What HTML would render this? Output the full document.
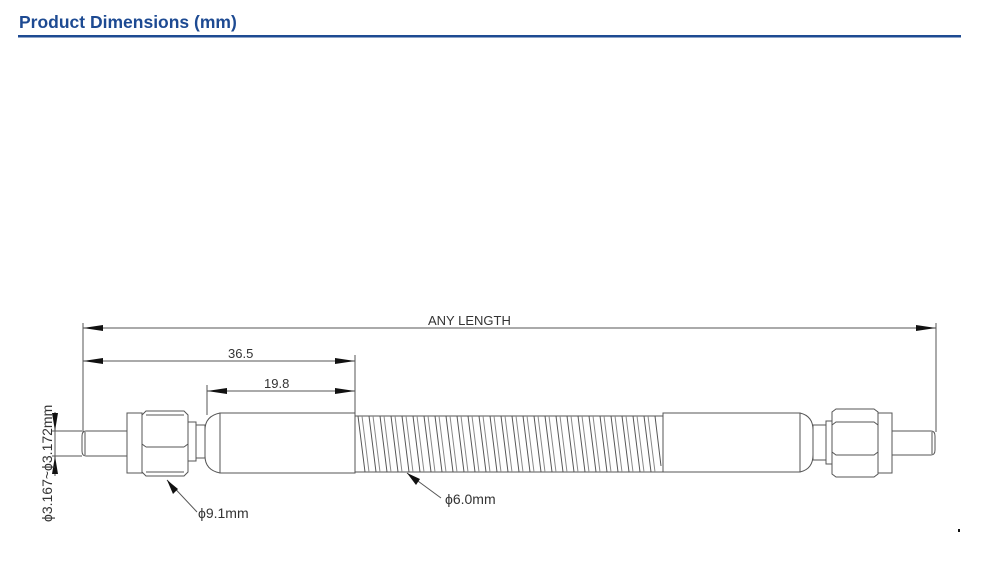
<!DOCTYPE html>
<html><head><style>
html,body{margin:0;padding:0;background:#fff;width:985px;height:580px;overflow:hidden}
</style></head><body>
<svg width="985" height="580" xmlns="http://www.w3.org/2000/svg" font-family="Liberation Sans, DejaVu Sans, sans-serif">
<text x="19" y="28" font-size="17.5" font-weight="bold" fill="#1d4a92">Product Dimensions (mm)</text>
<rect x="18" y="35" width="943" height="2.5" fill="#1d4a92"/>
<g stroke="#555" stroke-width="1" fill="none">
<line x1="83" y1="323" x2="83" y2="433"/>
<line x1="936" y1="323" x2="936" y2="432"/>
<line x1="355" y1="355" x2="355" y2="415"/>
<line x1="207" y1="385" x2="207" y2="415"/>
<line x1="83" y1="328" x2="936" y2="328"/>
<line x1="83" y1="361" x2="355" y2="361"/>
<line x1="207" y1="391" x2="355" y2="391"/>
<path d="M127 431 H86 Q82 431 82 436 V451 Q82 456 86 456 H127"/>
<line x1="85" y1="432" x2="85" y2="455"/>
<rect x="127" y="413" width="15" height="60"/>
<path d="M142 415 L146 411 H184 L188 415 V472 L184 476 H146 L142 472 Z"/>
<line x1="142" y1="444" x2="146" y2="447"/><line x1="146" y1="447" x2="184" y2="447"/><line x1="184" y1="447" x2="188" y2="444"/>
<line x1="146" y1="415" x2="184" y2="415"/><line x1="146" y1="472" x2="184" y2="472"/>
<rect x="188" y="422" width="8" height="39"/>
<rect x="196" y="425" width="9" height="33"/>
<path d="M220 413 Q205 416 205 430 V456 Q205 470 220 473"/>
<rect x="220" y="413" width="135" height="60"/>
<rect x="355" y="416" width="308" height="56"/>
<rect x="663" y="413" width="137" height="59"/>
<path d="M800 413 Q813 416 813 430 V455 Q813 469 800 472"/>
<rect x="813" y="425" width="13" height="35"/>
<rect x="826" y="421" width="6" height="43"/>
<path d="M832 412 L836 409 H874 L878 412 V474 L874 477 H836 L832 474 Z"/>
<path d="M832 425 L836 422 H874 L878 425"/><path d="M832 452 L836 455 H874 L878 452"/>
<rect x="878" y="413" width="14" height="60"/>
<path d="M892 431 H931 Q935 431 935 436 V450 Q935 455 931 455 H892"/>
<line x1="932" y1="432" x2="932" y2="454"/>
<line x1="52" y1="431" x2="82" y2="431"/>
<line x1="52" y1="456" x2="82" y2="456"/>
<line x1="55" y1="412" x2="55" y2="476"/>
<line x1="167" y1="480" x2="197" y2="512"/>
<line x1="407" y1="473" x2="441" y2="498"/>
</g>
<g fill="#111">
<path d="M83 328 l20 -3 v6 z"/><path d="M936 328 l-20 -3 v6 z"/>
<path d="M83 361 l20 -3 v6 z"/><path d="M355 361 l-20 -3 v6 z"/>
<path d="M207 391 l20 -3 v6 z"/><path d="M355 391 l-20 -3 v6 z"/>
<path d="M55 431 l-3 -18 h6 z"/><path d="M55 456 l-3 18 h6 z"/>
<path d="M167 480 l6 14 l5 -5 z"/>
<path d="M407 473 l9 12 l4 -6 z"/>
<rect x="958" y="529" width="2" height="3"/>
</g>
<g fill="#333" font-size="13">
<text x="428" y="325">ANY LENGTH</text>
<text x="228" y="358">36.5</text>
<text x="264" y="388">19.8</text>
<text x="198" y="518" font-size="14">ϕ9.1mm</text>
<text x="445" y="504" font-size="14">ϕ6.0mm</text>
<text transform="translate(52,522) rotate(-90)" font-size="14">ϕ3.167~ϕ3.172mm</text>
</g>
<g stroke="#555" stroke-width="1" fill="none">
<path d="M358 416 l7 56M369 416 l7 56M380 416 l7 56M391 416 l7 56M402 416 l7 56M413 416 l7 56M424 416 l7 56M435 416 l7 56M446 416 l7 56M457 416 l7 56M468 416 l7 56M479 416 l7 56M490 416 l7 56M501 416 l7 56M512 416 l7 56M523 416 l7 56M534 416 l7 56M545 416 l7 56M556 416 l7 56M567 416 l7 56M578 416 l7 56M589 416 l7 56M600 416 l7 56M611 416 l7 56M622 416 l7 56M633 416 l7 56M644 416 l7 56M655 416 l6 50"/>
<path d="M362 416 l7 56M373 416 l7 56M384 416 l7 56M395 416 l7 56M406 416 l7 56M417 416 l7 56M428 416 l7 56M439 416 l7 56M450 416 l7 56M461 416 l7 56M472 416 l7 56M483 416 l7 56M494 416 l7 56M505 416 l7 56M516 416 l7 56M527 416 l7 56M538 416 l7 56M549 416 l7 56M560 416 l7 56M571 416 l7 56M582 416 l7 56M593 416 l7 56M604 416 l7 56M615 416 l7 56M626 416 l7 56M637 416 l7 56M648 416 l7 56" stroke="#888"/>
</g>
</svg>
</body></html>
